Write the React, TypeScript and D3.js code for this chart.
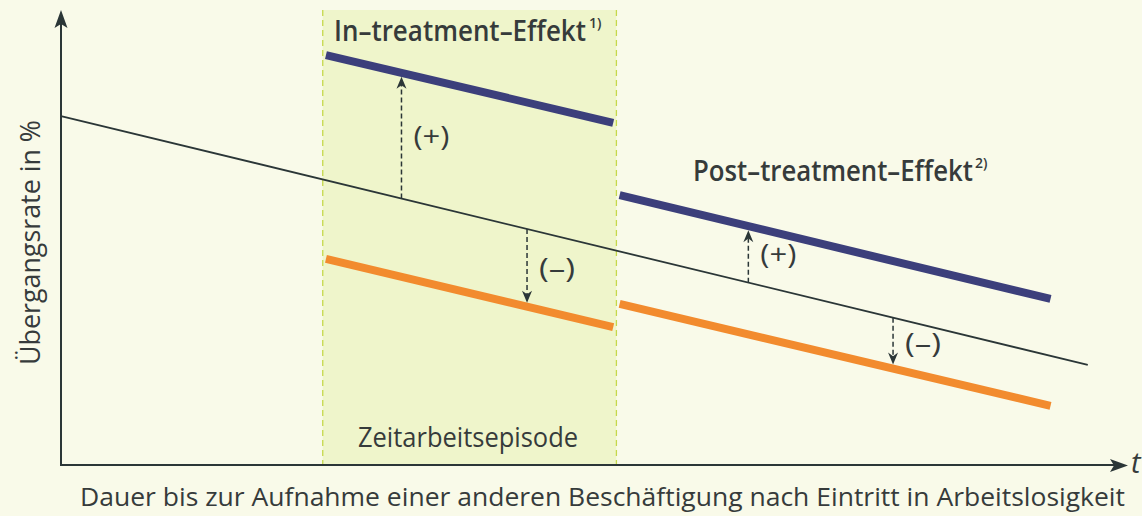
import React from "react";
import * as d3 from "d3";

// ---- data (abstract units: time 0..100, rate 0..100) ----
const baseline: [number, number][] = [[0, 76.7], [96.5, 22.0]];
const inTreatPos: [number, number][] = [[24.9, 90.1], [51.9, 75.2]];
const inTreatNeg: [number, number][] = [[24.9, 45.3], [51.9, 30.3]];
const postTreatPos: [number, number][] = [[52.5, 59.3], [93.0, 36.5]];
const postTreatNeg: [number, number][] = [[52.5, 35.4], [93.0, 13.0]];
const episode: [number, number] = [24.6, 52.2];
const effectArrows = [
  { x: 32.0, target: "inPos", label: "(+)" },
  { x: 43.8, target: "inNeg", label: "(–)" },
  { x: 64.6, target: "postPos", label: "(+)" },
  { x: 78.2, target: "postNeg", label: "(–)" },
];
const labels = {
  inTitle: "In–treatment–Effekt",
  inSup: "1)",
  postTitle: "Post–treatment–Effekt",
  postSup: "2)",
  episode: "Zeitarbeitsepisode",
  xAxis: "Dauer bis zur Aufnahme einer anderen Beschäftigung nach Eintritt in Arbeitslosigkeit",
  yAxis: "Übergangsrate in %",
  t: "t",
};

const W = 1142;
const H = 516;
const BG = "#f9fae9";
const SHADE = "#eff5cb";
const DASH = "#c5d84a";
const BLUE = "#3c3f7b";
const ORANGE = "#f28b2e";
const INK = "#2b3637";
const TEXT = "#363b3b";
const FONT = "'Open Sans', 'Noto Sans', sans-serif";

const x = d3.scaleLinear().domain([0, 100]).range([61, 1125]);
const y = d3.scaleLinear().domain([0, 100]).range([465, 10]);
const line = d3.line<[number, number]>().x((d) => x(d[0])).y((d) => y(d[1]));

function valAt(seg: [number, number][], xv: number) {
  const [a, b] = seg;
  const t = (xv - a[0]) / (b[0] - a[0]);
  return a[1] + t * (b[1] - a[1]);
}

const targets: Record<string, [number, number][]> = {
  inPos: inTreatPos,
  inNeg: inTreatNeg,
  postPos: postTreatPos,
  postNeg: postTreatNeg,
};

function head(tipX: number, tipY: number, dir: number, len: number, half: number) {
  const by = tipY - dir * len;
  const ny = tipY - dir * len * 0.7;
  return `M${tipX},${tipY} L${tipX - half},${by} L${tipX},${ny} L${tipX + half},${by} Z`;
}

export default function App() {
  return (
    <svg width={W} height={H} style={{ display: "block", position: "absolute", left: 0, top: 0 }}>
      <rect x={0} y={0} width={W} height={H} fill={BG} />
      {/* episode shading */}
      <rect x={x(episode[0])} y={10} width={x(episode[1]) - x(episode[0])} height={y(0) - 10} fill={SHADE} />
      {episode.map((e, i) => (
        <line key={i} x1={x(e)} x2={x(e)} y1={10} y2={y(0)} stroke={DASH} strokeWidth={1.3} strokeDasharray="6,4" />
      ))}

      {/* baseline */}
      <path d={line(baseline) || ""} stroke={INK} strokeWidth={1.8} fill="none" />

      {/* treatment lines */}
      <path d={line(inTreatPos) || ""} stroke={BLUE} strokeWidth={8} fill="none" />
      <path d={line(postTreatPos) || ""} stroke={BLUE} strokeWidth={8} fill="none" />
      <path d={line(inTreatNeg) || ""} stroke={ORANGE} strokeWidth={8} fill="none" />
      <path d={line(postTreatNeg) || ""} stroke={ORANGE} strokeWidth={8} fill="none" />

      {/* effect arrows */}
      {effectArrows.map((a, i) => {
        const px = x(a.x);
        const y0 = y(valAt(baseline, a.x));
        const yt = y(valAt(targets[a.target], a.x));
        const dir = yt < y0 ? -1 : 1;
        const tip = yt - dir * 4;
        const midY = (y0 + yt) / 2;
        return (
          <g key={i}>
            <line x1={px} x2={px} y1={y0} y2={tip - dir * 8} stroke={INK} strokeWidth={1.5} strokeDasharray="5,3" />
            <path d={head(px, tip, dir, 12, 5)} fill={INK} />
            <text x={px + 12} y={midY + 10} fontFamily={FONT} fontSize={28} fill={TEXT} textLength={36} lengthAdjust="spacingAndGlyphs">
              {a.label}
            </text>
          </g>
        );
      })}

      {/* axes */}
      <line x1={x(0)} x2={x(0)} y1={y(0)} y2={22} stroke={INK} strokeWidth={2} />
      <path d={`M61,10 L54.5,28 L61,24 L67.5,28 Z`} fill={INK} />
      <line x1={x(0) - 1} x2={1115} y1={y(0)} y2={y(0)} stroke={INK} strokeWidth={2} />
      <path d={`M1128,465.5 L1110,459 L1114,465.5 L1110,472 Z`} fill={INK} />
      <text x={1131} y={473} fontFamily={FONT} fontStyle="italic" fontSize={29} fill={TEXT}>
        {labels.t}
      </text>

      {/* titles with superscripts */}
      <text x={334} y={41} fontFamily={FONT} fontWeight={600} fill={TEXT}>
        <tspan fontSize={28} textLength={252} lengthAdjust="spacingAndGlyphs">{labels.inTitle}</tspan>
        <tspan x={589} dy={-13} fontSize={14}>{labels.inSup}</tspan>
      </text>
      <text x={693} y={181} fontFamily={FONT} fontWeight={600} fill={TEXT}>
        <tspan fontSize={28} textLength={280} lengthAdjust="spacingAndGlyphs">{labels.postTitle}</tspan>
        <tspan x={975} dy={-13} fontSize={14}>{labels.postSup}</tspan>
      </text>

      <text x={358} y={447} fontFamily={FONT} fontSize={28} fill={TEXT} textLength={220} lengthAdjust="spacingAndGlyphs">
        {labels.episode}
      </text>

      <text x={80} y={506} fontFamily={FONT} fontSize={26} fill={TEXT} textLength={1045} lengthAdjust="spacingAndGlyphs">
        {labels.xAxis}
      </text>

      <text
        transform={`translate(40,365) rotate(-90)`}
        x={0}
        y={0}
        fontFamily={FONT}
        fontSize={28}
        fill={TEXT}
        textLength={245}
        lengthAdjust="spacingAndGlyphs"
      >
        {labels.yAxis}
      </text>
    </svg>
  );
}
